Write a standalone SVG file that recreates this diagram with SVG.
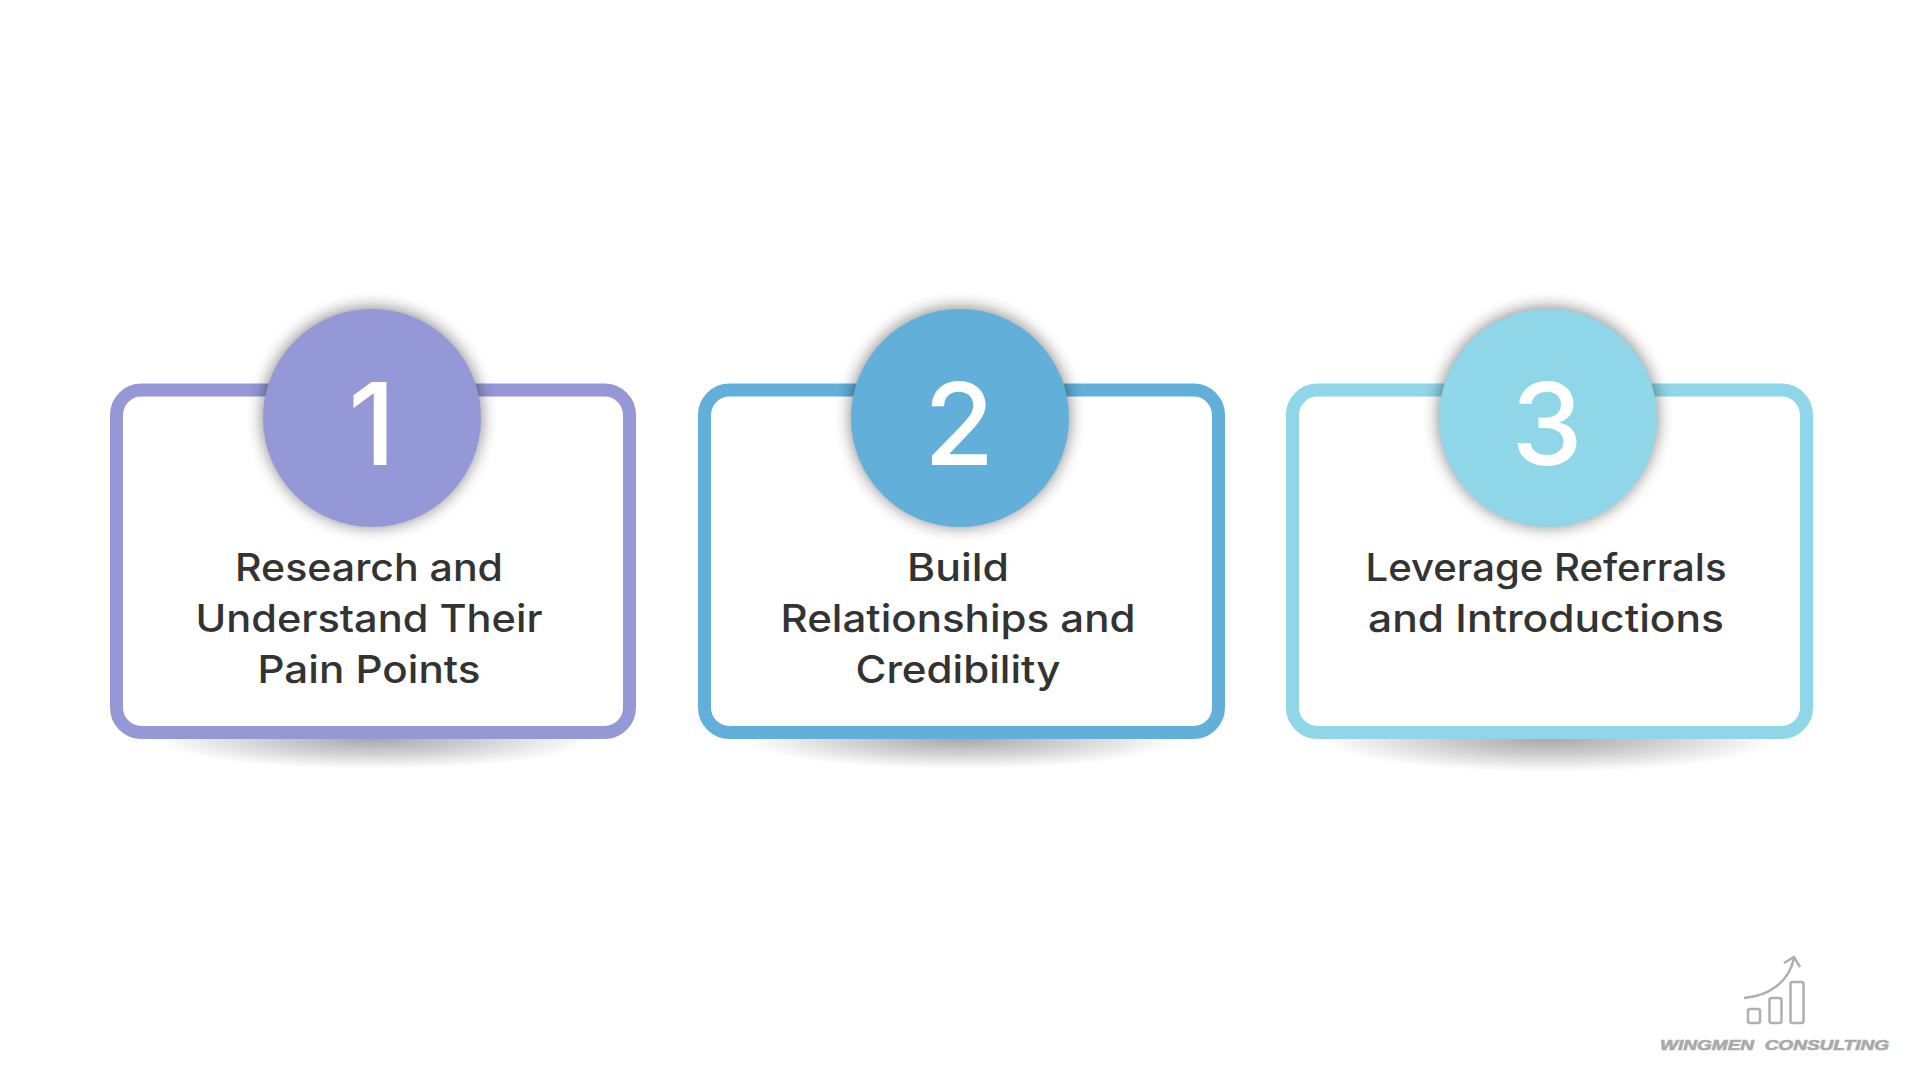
<svg xmlns="http://www.w3.org/2000/svg" width="1920" height="1080" viewBox="0 0 1920 1080">
<style>
.box{fill:#fff;stroke-width:13}
.lbl{font-family:"Inter","Noto Sans",sans-serif;font-size:38px;font-weight:500;fill:#333;text-anchor:middle}
.num{font-family:"Inter","Noto Sans",sans-serif;font-size:114px;font-weight:500;fill:#fff;text-anchor:middle}
.sh{fill:url(#sg)}
.cs{fill:#000;opacity:.45;filter:url(#b2)}
.logo{fill:none;stroke:#b0b0b0;stroke-width:2.5}
</style>
<defs>
<radialGradient id="sg"><stop offset="0" stop-color="#000" stop-opacity=".34"/><stop offset=".45" stop-color="#000" stop-opacity=".2"/><stop offset="1" stop-color="#000" stop-opacity="0"/></radialGradient>
<filter id="b2" x="-20%" y="-20%" width="140%" height="140%"><feGaussianBlur stdDeviation="8"/></filter>
</defs>
<rect width="1920" height="1080" fill="#fff"/>
<g id="node1">
<ellipse class="sh" cx="373" cy="739" rx="218" ry="30"/>
<rect class="box" x="116.500" y="390" width="513" height="342.500" rx="25" stroke="#9598d6"/>
<circle class="cs" cx="372" cy="417" r="110"/>
<circle cx="372" cy="418" r="109" fill="#9598d6"/>
<text class="num" x="372" y="465">1</text>
<text class="lbl" x="369" y="581" textLength="268" lengthAdjust="spacingAndGlyphs">Research and</text>
<text class="lbl" x="369" y="632" textLength="347" lengthAdjust="spacingAndGlyphs">Understand Their</text>
<text class="lbl" x="369" y="683" textLength="223" lengthAdjust="spacingAndGlyphs">Pain Points</text>
</g>
<g id="node2">
<ellipse class="sh" cx="961" cy="739" rx="218" ry="30"/>
<rect class="box" x="704.500" y="390" width="514" height="342.500" rx="25" stroke="#62afda"/>
<circle class="cs" cx="960" cy="417" r="110"/>
<circle cx="960" cy="418" r="109" fill="#62afda"/>
<text class="num" x="959" y="465">2</text>
<text class="lbl" x="958" y="581" textLength="102" lengthAdjust="spacingAndGlyphs">Build</text>
<text class="lbl" x="958" y="632" textLength="355" lengthAdjust="spacingAndGlyphs">Relationships and</text>
<text class="lbl" x="958" y="683" textLength="205" lengthAdjust="spacingAndGlyphs">Credibility</text>
</g>
<g id="node3">
<ellipse class="sh" cx="1549" cy="739" rx="228" ry="33"/>
<rect class="box" x="1292.500" y="390" width="514" height="342.500" rx="25" stroke="#8fd6e8"/>
<circle class="cs" cx="1548" cy="417" r="110"/>
<circle cx="1548" cy="418" r="109" fill="#8fd6e8"/>
<text class="num" x="1547" y="465">3</text>
<text class="lbl" x="1546" y="581" textLength="361" lengthAdjust="spacingAndGlyphs">Leverage Referrals</text>
<text class="lbl" x="1546" y="632" textLength="356" lengthAdjust="spacingAndGlyphs">and Introductions</text>
</g>
<g id="connectors"></g>
<g id="logo">
<rect class="logo" x="1748" y="1009" width="12" height="14" rx="2"/>
<rect class="logo" x="1769.500" y="998" width="12" height="25" rx="2"/>
<rect class="logo" x="1790.500" y="982" width="13" height="41" rx="2"/>
<path class="logo" stroke-width="1.500" d="M1744 998C1769 996 1789 982 1794 958M1784 963L1794 957L1800 967"/>
<text x="1660" y="1050" textLength="229" lengthAdjust="spacingAndGlyphs" style="font-family:'Liberation Sans',Arial,sans-serif;font-size:15.500px;font-weight:700;font-style:italic;fill:#aaa;stroke:#aaa;stroke-width:.7;white-space:pre" xml:space="preserve">WINGMEN  CONSULTING</text>
</g>
</svg>
